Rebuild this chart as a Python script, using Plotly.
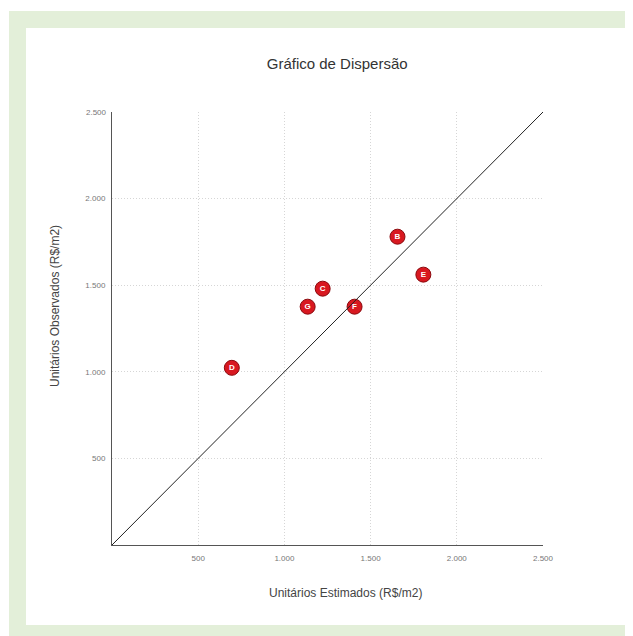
import plotly.graph_objects as go

# Data
labels = ["B", "C", "D", "E", "F", "G"]
estimados = [1656, 1222, 695, 1806, 1407, 1135]
observados = [1780, 1480, 1023, 1561, 1376, 1376]
ref_line = [0, 2500]
grid_vals = [500, 1000, 1500, 2000]
grid_text = ["500", "1.000", "1.500", "2.000"]
end_vals = [2500]
end_text = ["2.500"]

OFF = 8  # page body margin
W, H = 633 - OFF, 636 - OFF
L, T = 112 - OFF, 112 - OFF
R = W - (543 - OFF)
B = H - (545 - OFF)
pw, ph = W - L - R, H - T - B

def px(x):
    return (x - OFF - L) / pw

def py(y):
    return (H - B - (y - OFF)) / ph

fig = go.Figure()
fig.add_trace(go.Scatter(x=ref_line, y=ref_line, mode="lines",
                         xaxis="x2", yaxis="y2",
                         line=dict(color="#222222", width=1),
                         hoverinfo="skip", showlegend=False))
fig.add_trace(go.Scatter(x=estimados, y=observados, mode="markers+text",
                         text=labels, textposition="middle center",
                         textfont=dict(family="Liberation Sans", size=8,
                                       color="white", weight="bold"),
                         marker=dict(size=15, color="#d81820",
                                     line=dict(color="#8a0a0e", width=1)),
                         showlegend=False))

tickfont = dict(size=8, color="#777777")
fig.update_layout(
    width=W, height=H,
    margin=dict(l=L, r=R, t=T, b=B),
    paper_bgcolor="white", plot_bgcolor="rgba(0,0,0,0)",
    font=dict(family="Liberation Sans", color="#555555"),
    title=dict(text="Gráfico de Dispersão", x=px(339), xanchor="center",
               y=1 - (64 - OFF) / H, yanchor="middle", yref="container",
               font=dict(size=15, color="#333333")),
    shapes=[
        dict(type="rect", xref="paper", yref="paper", layer="below",
             x0=px(9), x1=px(650), y0=py(650), y1=py(11),
             fillcolor="#e3efd9", line=dict(width=0)),
        dict(type="rect", xref="paper", yref="paper", layer="below",
             x0=px(26), x1=px(628), y0=py(625), y1=py(28),
             fillcolor="white", line=dict(width=0)),
    ],
    annotations=[
        dict(text="Unitários Estimados (R$/m2)", xref="paper", yref="paper",
             x=px(345), y=py(602), showarrow=False,
             font=dict(size=12, color="#444444")),
        dict(text="Unitários Observados (R$/m2)", xref="paper", yref="paper",
             x=px(46), y=py(306), showarrow=False, textangle=-90,
             font=dict(size=12, color="#444444")),
    ],
    xaxis=dict(range=[0, 2500], tickvals=grid_vals, ticktext=grid_text,
               showline=True, linecolor="#555555", linewidth=1,
               showgrid=True, gridcolor="#d6d6d6", griddash="1px,2px", gridwidth=1,
               zeroline=False, ticks="", tickfont=tickfont, ticklabelstandoff=5),
    yaxis=dict(range=[0, 2500], tickvals=grid_vals, ticktext=grid_text,
               showline=True, linecolor="#555555", linewidth=1,
               showgrid=True, gridcolor="#d6d6d6", griddash="1px,2px", gridwidth=1,
               zeroline=False, ticks="", tickfont=tickfont, ticklabelstandoff=4),
    xaxis2=dict(range=[0, 2500], overlaying="x", side="bottom",
                tickvals=end_vals, ticktext=end_text, showgrid=False,
                zeroline=False, showline=False, ticks="", tickfont=tickfont,
                ticklabelstandoff=7),
    yaxis2=dict(range=[0, 2500], overlaying="y", side="left",
                tickvals=end_vals, ticktext=end_text, showgrid=False,
                zeroline=False, showline=False, ticks="", tickfont=tickfont,
                ticklabelstandoff=5),
)

fig.write_html("out.html")
